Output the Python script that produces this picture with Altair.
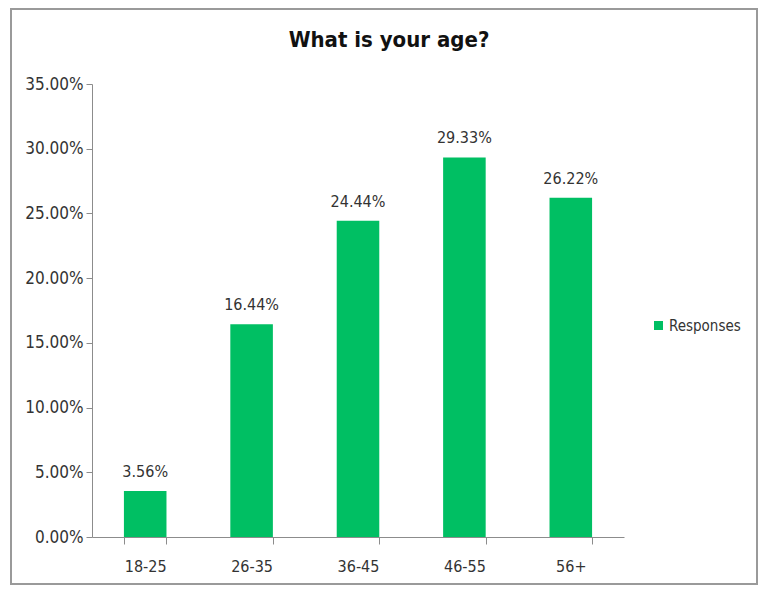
import altair as alt
import pandas as pd

title_text = "What is your age?"
categories = ["18-25", "26-35", "36-45", "46-55", "56+"]
values = [0.0356, 0.1644, 0.2444, 0.2933, 0.2622]
series = ["Responses"] * 5
y_ticks = [0, 0.05, 0.10, 0.15, 0.20, 0.25, 0.30, 0.35]

df = pd.DataFrame({"age": categories, "share": values, "series": series})

FONT = "Liberation Sans Narrow, DejaVu Sans Condensed, Liberation Sans, sans-serif"
GREEN = "#00BF63"
AXIS_GRAY = "#8c8c8c"
TEXT = "#333333"

W, H = 532, 453

base = alt.Chart(df)

x_enc = alt.X(
    "age:N",
    sort=categories,
    title=None,
    scale=alt.Scale(paddingInner=0.6, paddingOuter=0.3),
    axis=alt.Axis(
        labelAngle=0,
        tickBand="extent",
        tickSize=7,
        labelPadding=14,
        labelFontSize=16,
        labelFont=FONT,
        labelColor=TEXT,
        domainColor=AXIS_GRAY,
        tickColor=AXIS_GRAY,
        grid=False,
    ),
)
y_enc = alt.Y(
    "share:Q",
    title=None,
    scale=alt.Scale(domain=[0, 0.35], nice=False),
    axis=alt.Axis(
        values=y_ticks,
        format=".2%",
        tickSize=6,
        labelPadding=3,
        labelFontSize=17,
        labelFont=FONT,
        labelColor=TEXT,
        domainColor=AXIS_GRAY,
        tickColor=AXIS_GRAY,
        grid=False,
    ),
)

bars = base.mark_bar().encode(
    x=x_enc,
    y=y_enc,
    color=alt.Color(
        "series:N",
        title=None,
        scale=alt.Scale(range=[GREEN]),
        legend=alt.Legend(
            orient="none",
            legendX=559,
            legendY=234,
            symbolType="square",
            symbolSize=81,
            symbolStrokeWidth=0,
            labelFont=FONT,
            labelFontSize=15,
            labelColor=TEXT,
            labelOffset=3,
        ),
    ),
)

labels = base.mark_text(
    baseline="alphabetic", dy=-14, font=FONT, fontSize=16, color=TEXT
).encode(
    x=alt.X("age:N", sort=categories),
    y="share:Q",
    text=alt.Text("share:Q", format=".2%"),
)

border = base.mark_rect(fill=None, stroke="#9a9a9a", strokeWidth=2).encode(
    x=alt.value(-81), x2=alt.value(665), y=alt.value(-75), y2=alt.value(500)
)

title = alt.Chart(pd.DataFrame({"t": [title_text]})).mark_text(
    font=FONT, fontSize=22, fontWeight="bold", color="#111111",
    baseline="alphabetic", align="center",
).encode(text="t:N", x=alt.value(297), y=alt.value(-37))

chart = (
    alt.layer(border, bars, labels, title)
    .properties(
        width=W,
        height=H,
        background="white",
        autosize=alt.AutoSizeParams(type="none"),
        padding={"left": 84, "top": 76, "right": 134, "bottom": 49},
    )
    .configure_view(strokeWidth=0)
)

chart.save("out.html", embed_options={"renderer": "svg", "actions": False})
